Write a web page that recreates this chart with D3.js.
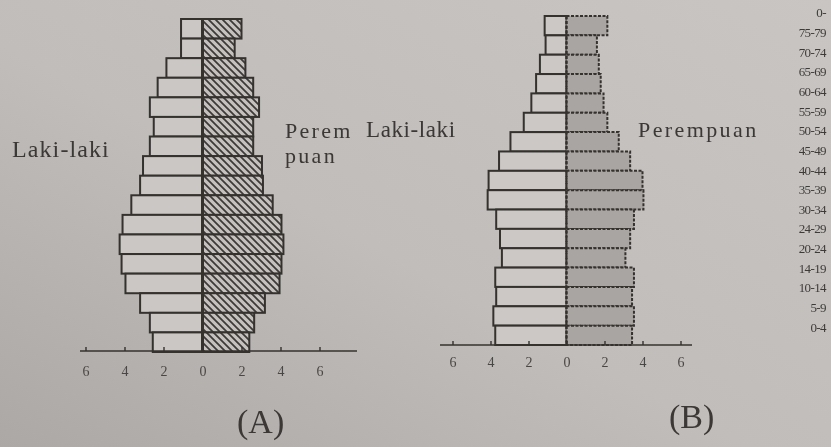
<!DOCTYPE html>
<html>
<head>
<meta charset="utf-8">
<script src="https://cdn.jsdelivr.net/npm/d3@7"></script>
<style>
  body { margin: 0; background: #bdbab8; }
  svg { display: block; }
</style>
</head>
<body>
<div id="chart"></div>
<script>
// age groups, top to bottom, as printed on the page
const ages = ["0-", "75-79", "70-74", "65-69", "60-64", "55-59", "50-54", "45-49", "40-44",
  "35-39", "30-34", "24-29", "20-24", "14-19", "10-14", "5-9", "0-4"];

// percentages, same order as ages
const maleA   = [1.1, 1.1, 1.85, 2.3, 2.7, 2.5, 2.7, 3.05, 3.2, 3.65, 4.1, 4.25, 4.15, 3.95, 3.2, 2.7, 2.55];
const femaleA = [2.0, 1.65, 2.2, 2.6, 2.9, 2.6, 2.6, 3.05, 3.1, 3.6, 4.05, 4.15, 4.05, 3.95, 3.2, 2.65, 2.4];
const maleB   = [1.15, 1.1, 1.4, 1.6, 1.85, 2.25, 2.95, 3.55, 4.1, 4.15, 3.7, 3.5, 3.4, 3.75, 3.7, 3.85, 3.75];
const femaleB = [2.15, 1.6, 1.7, 1.8, 1.95, 2.15, 2.75, 3.35, 4.0, 4.05, 3.55, 3.35, 3.1, 3.55, 3.45, 3.55, 3.45];

const tickValues = [-6, -4, -2, 0, 2, 4, 6];

const width = 831, height = 447;
const ink = "#34312f";
const serif = "'Liberation Serif', 'DejaVu Serif', serif";

const svg = d3.select("#chart").append("svg")
    .attr("width", width)
    .attr("height", height);

const defs = svg.append("defs");

// paper with uneven lighting
const grad = defs.append("linearGradient")
    .attr("id", "paper")
    .attr("x1", "100%").attr("y1", "0%")
    .attr("x2", "0%").attr("y2", "100%");
grad.append("stop").attr("offset", "0%").attr("stop-color", "#c8c5c3");
grad.append("stop").attr("offset", "55%").attr("stop-color", "#c0bdbb");
grad.append("stop").attr("offset", "100%").attr("stop-color", "#aba8a6");

const hatch = defs.append("pattern")
    .attr("id", "hatch")
    .attr("patternUnits", "userSpaceOnUse")
    .attr("width", 7).attr("height", 7);
hatch.append("rect").attr("width", 7).attr("height", 7).attr("fill", "#c4c1bf");
hatch.append("path")
    .attr("d", "M0,0L7,7M-1,6L1,8M6,-1L8,1")
    .attr("stroke", "#3d3a38")
    .attr("stroke-width", 1.8);

defs.append("filter").attr("id", "soft")
    .append("feGaussianBlur").attr("stdDeviation", 0.55);

svg.append("rect")
    .attr("width", width).attr("height", height)
    .attr("fill", "url(#paper)");

const g = svg.append("g").attr("filter", "url(#soft)");

function pyramid(opt) {
    const x = d3.scaleLinear()
        .domain([-6, 6])
        .range([opt.zero - 6 * opt.unit, opt.zero + 6 * opt.unit]);
    const y = d3.scaleBand()
        .domain(ages)
        .range([opt.top, opt.bottom]);

    const rows = ages.map((a, i) => ({age: a, m: opt.male[i], f: opt.female[i]}));

    g.append("g").selectAll("rect")
        .data(rows)
        .join("rect")
        .attr("x", d => x(-d.m))
        .attr("y", d => y(d.age))
        .attr("width", d => x(0) - x(-d.m))
        .attr("height", y.bandwidth())
        .attr("fill", opt.maleFill)
        .attr("stroke", ink)
        .attr("stroke-width", 2);

    const fem = g.append("g").selectAll("rect")
        .data(rows)
        .join("rect")
        .attr("x", x(0))
        .attr("y", d => y(d.age))
        .attr("width", d => x(d.f) - x(0))
        .attr("height", y.bandwidth())
        .attr("fill", opt.femaleFill)
        .attr("stroke", ink)
        .attr("stroke-width", 2);
    if (opt.dotted) fem.attr("stroke-dasharray", "3,1.5");

    // centre line
    g.append("line")
        .attr("x1", x(0)).attr("x2", x(0))
        .attr("y1", opt.top).attr("y2", opt.axisY)
        .attr("stroke", ink)
        .attr("stroke-width", opt.dotted ? 2 : 3)
        .attr("stroke-dasharray", opt.dotted ? "3,2" : null);

    // axis
    const axis = g.append("g")
        .attr("transform", `translate(0,${opt.axisY})`)
        .call(d3.axisBottom(x)
            .tickValues(tickValues)
            .tickFormat(d => Math.abs(d))
            .tickSizeInner(-4)
            .tickSizeOuter(0)
            .tickPadding(opt.pad));
    axis.select(".domain").remove();
    axis.append("line")
        .attr("x1", opt.axisL).attr("x2", opt.axisR)
        .attr("stroke", ink).attr("stroke-width", 1.6);
    axis.selectAll(".tick line").attr("stroke", ink).attr("stroke-width", 1.4);
    axis.selectAll(".tick text")
        .attr("fill", "#4a4745")
        .attr("font-family", serif)
        .attr("font-size", 14);
}

pyramid({
    zero: 202.5, unit: 19.5, top: 19, bottom: 352, axisY: 351,
    axisL: 80, axisR: 357, pad: 15,
    male: maleA, female: femaleA,
    maleFill: "#cac7c5", femaleFill: "url(#hatch)", dotted: false
});

pyramid({
    zero: 566.5, unit: 19, top: 16, bottom: 345, axisY: 345,
    axisL: 440, axisR: 692, pad: 12,
    male: maleB, female: femaleB,
    maleFill: "#cbc8c6", femaleFill: "#a9a5a3", dotted: true
});

// age labels at the right edge
const yLab = d3.scaleBand().domain(ages).range([3, 337]);
g.append("g").selectAll("text")
    .data(ages)
    .join("text")
    .attr("x", 826)
    .attr("y", d => yLab(d) + yLab.bandwidth() / 2)
    .attr("dy", "0.35em")
    .attr("text-anchor", "end")
    .attr("font-family", serif)
    .attr("font-size", 13)
    .attr("letter-spacing", -0.6)
    .attr("fill", "#3e3b39")
    .text(d => d);

const texts = [
    {t: "Laki-laki", x: 12, y: 157, s: 24, ls: 1.1},
    {t: "Perem", x: 285, y: 138, s: 22, ls: 2.3},
    {t: "puan", x: 285, y: 163, s: 22, ls: 2.3},
    {t: "Laki-laki", x: 366, y: 137, s: 23, ls: 0.6},
    {t: "Perempuan", x: 638, y: 137, s: 22, ls: 2.4},
    {t: "(A)", x: 237, y: 433, s: 34, ls: 0},
    {t: "(B)", x: 669, y: 428, s: 34, ls: 0}
];
g.append("g").selectAll("text")
    .data(texts)
    .join("text")
    .attr("x", d => d.x)
    .attr("y", d => d.y)
    .attr("font-family", serif)
    .attr("font-size", d => d.s)
    .attr("letter-spacing", d => d.ls)
    .attr("fill", "#3a3735")
    .text(d => d.t);
</script>
</body>
</html>
